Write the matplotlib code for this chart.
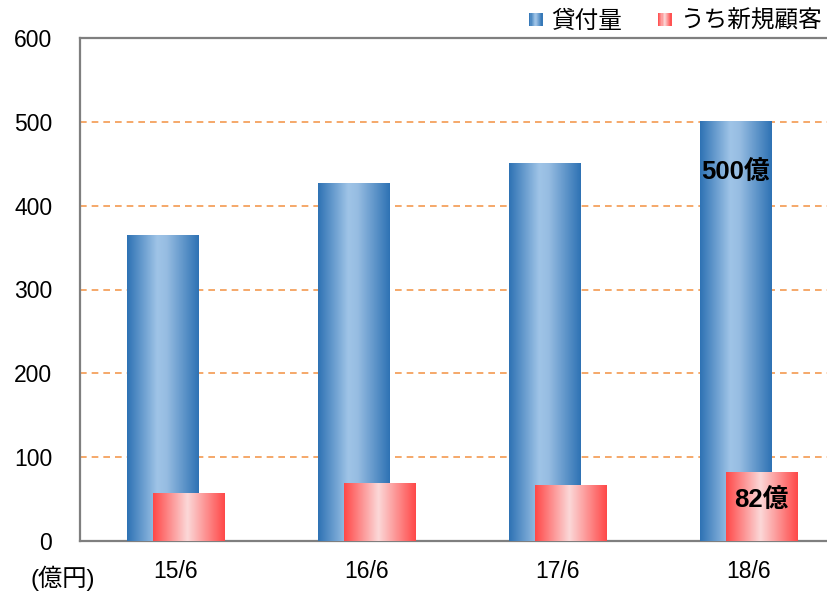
import numpy as np
import matplotlib
matplotlib.use('Agg')
import matplotlib.pyplot as plt
from matplotlib.colors import LinearSegmentedColormap
from matplotlib.patches import Rectangle
from matplotlib.legend_handler import HandlerBase

plt.rcParams['font.family'] = ['Liberation Sans', 'Noto Sans CJK JP', 'DejaVu Sans']

# data
categories = ['15/6', '16/6', '17/6', '18/6']
loans = [364, 427, 450, 500]        # 貸付量
new_clients = [57, 69, 66, 82]      # うち新規顧客

blue_cmap = LinearSegmentedColormap.from_list(
    'blue', [(0, '#2E72B4'), (0.42, '#9FC4E7'), (0.55, '#97BDE2'), (1, '#2E72B4')])
red_cmap = LinearSegmentedColormap.from_list(
    'red', [(0, '#FF4848'), (0.48, '#FBD8D8'), (1, '#FF4848')])
grad = np.linspace(0, 1, 256).reshape(1, -1)


def gradient_bar(ax, x, h, w, cmap):
    ax.imshow(grad, cmap=cmap, extent=(x - w / 2, x + w / 2, 0, h),
              aspect='auto', zorder=3, interpolation='bilinear')


class GradientHandler(HandlerBase):
    def __init__(self, cmap):
        super().__init__()
        self.cmap = cmap

    def create_artists(self, legend, orig_handle, xdescent, ydescent,
                       width, height, fontsize, trans):
        n = 12
        size = height * 0.8
        x0 = width - size
        y0 = -ydescent + (height - size) / 2
        arts = []
        for k in range(n):
            r = Rectangle((x0 + k * size / n, y0), size / n + 0.3, size,
                          facecolor=self.cmap((k + 0.5) / n), edgecolor='none',
                          transform=trans)
            arts.append(r)
        return arts


fig = plt.figure(figsize=(8.27, 5.91), dpi=100)
ax = fig.add_axes([80 / 827, 1 - 541 / 591, 1 - 80 / 827, (541 - 38) / 591])

x = np.arange(len(categories))
w = 0.372
off = 0.067
for i in range(len(categories)):
    gradient_bar(ax, x[i] - off, loans[i], w, blue_cmap)
    gradient_bar(ax, x[i] + off, new_clients[i], w, red_cmap)

ax.set_xlim(-0.5, 3.41)
ax.set_ylim(0, 600)
ax.set_yticks(range(0, 700, 100))
ax.set_xticks(x)
ax.set_xticklabels(categories)
ax.tick_params(axis='both', length=0, labelsize=16.5, colors='black')
ax.tick_params(axis='y', pad=20)
ax.tick_params(axis='x', pad=14)

for yv in range(100, 600, 100):
    ax.axhline(yv, color='#F39A50', linestyle=(0, (4, 3)), linewidth=1.2, zorder=1)

for s in ax.spines.values():
    s.set_color('#7F7F7F')
    s.set_linewidth(1.6)
ax.spines['right'].set_visible(False)

ax.text(x[3] - off, 440, f'{loans[3]}億', ha='center', va='center',
        fontsize=18.5, fontweight='bold', zorder=5)
ax.text(x[3] + off, 49, f'{new_clients[3]}億', ha='center', va='center',
        fontsize=18.5, fontweight='bold', zorder=5)

fig.text(30 / 827, 1 - 578 / 591, '(億円)', fontsize=17.5, va='center', ha='left')

h1 = Rectangle((0, 0), 1, 1)
h2 = Rectangle((0, 0), 1, 1)
fig.legend([h1, h2], ['貸付量', 'うち新規顧客'],
           handler_map={h1: GradientHandler(blue_cmap), h2: GradientHandler(red_cmap)},
           loc='upper right', bbox_to_anchor=(1.006, 1.0), ncol=2, frameon=False,
           fontsize=17, handlelength=0.6, handletextpad=0.35, columnspacing=1.5,
           borderaxespad=0.05)

fig.savefig('out.png', dpi=100)
